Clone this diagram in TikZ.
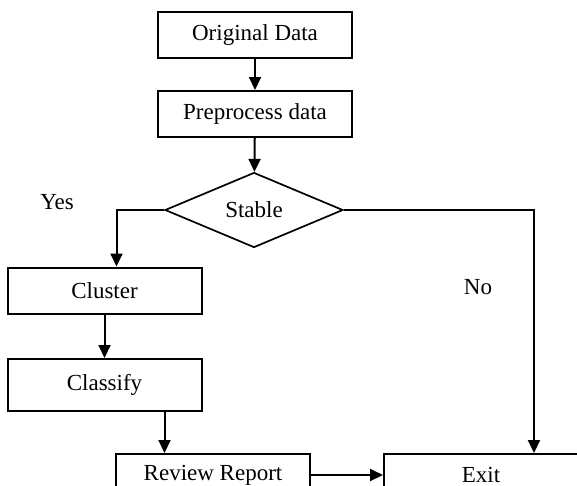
\documentclass[tikz,border=0pt]{standalone}
\usepackage{fontspec}
\setmainfont{Liberation Serif}
\usetikzlibrary{positioning,shapes.geometric,arrows.meta,calc}

\begin{document}
\begin{tikzpicture}[x=1pt,y=-1pt,every node/.style={font=\fontsize{23}{27}\selectfont},
  box/.style={draw,line width=2pt,minimum width=194pt,minimum height=46pt,inner sep=0pt},
  decision/.style={draw,diamond,line width=1.7pt,minimum width=178pt,minimum height=75pt,inner sep=0pt},
  flow/.style={-{Triangle[length=13pt,width=12pt]},line width=2pt}]
\useasboundingbox (0,0) rectangle (577,485);

\node[box](orig) at (255,35) {Original Data};
\node[box](prep) at (255,114) {Preprocess data};
\node[decision](stable) at (254,210) {Stable};
\node[box](clus) at (104.5,290.5) {Cluster};
\node[box,minimum height=52pt](cls) at (104.5,385) {Classify};
\node[box,minimum height=42pt](rev) at (213,475) {Review Report};
\node[box,minimum height=42pt](exit) at (481,475) {Exit};
\node(yes) at (57,202) {Yes};
\node(no) at (478,287) {No};

\draw[flow](orig)--(prep);
\draw[flow](prep)--(stable);
\draw[flow](stable.west)-|([xshift=12pt]clus.north);
\draw[flow](clus)--(cls);
\draw[flow]([xshift=60pt]cls.south)--([xshift=60pt]cls.south |- rev.north);
\draw[flow](rev)--(exit);
\draw[flow](stable.east)-|([xshift=53pt]exit.north);
\end{tikzpicture}
\end{document}
